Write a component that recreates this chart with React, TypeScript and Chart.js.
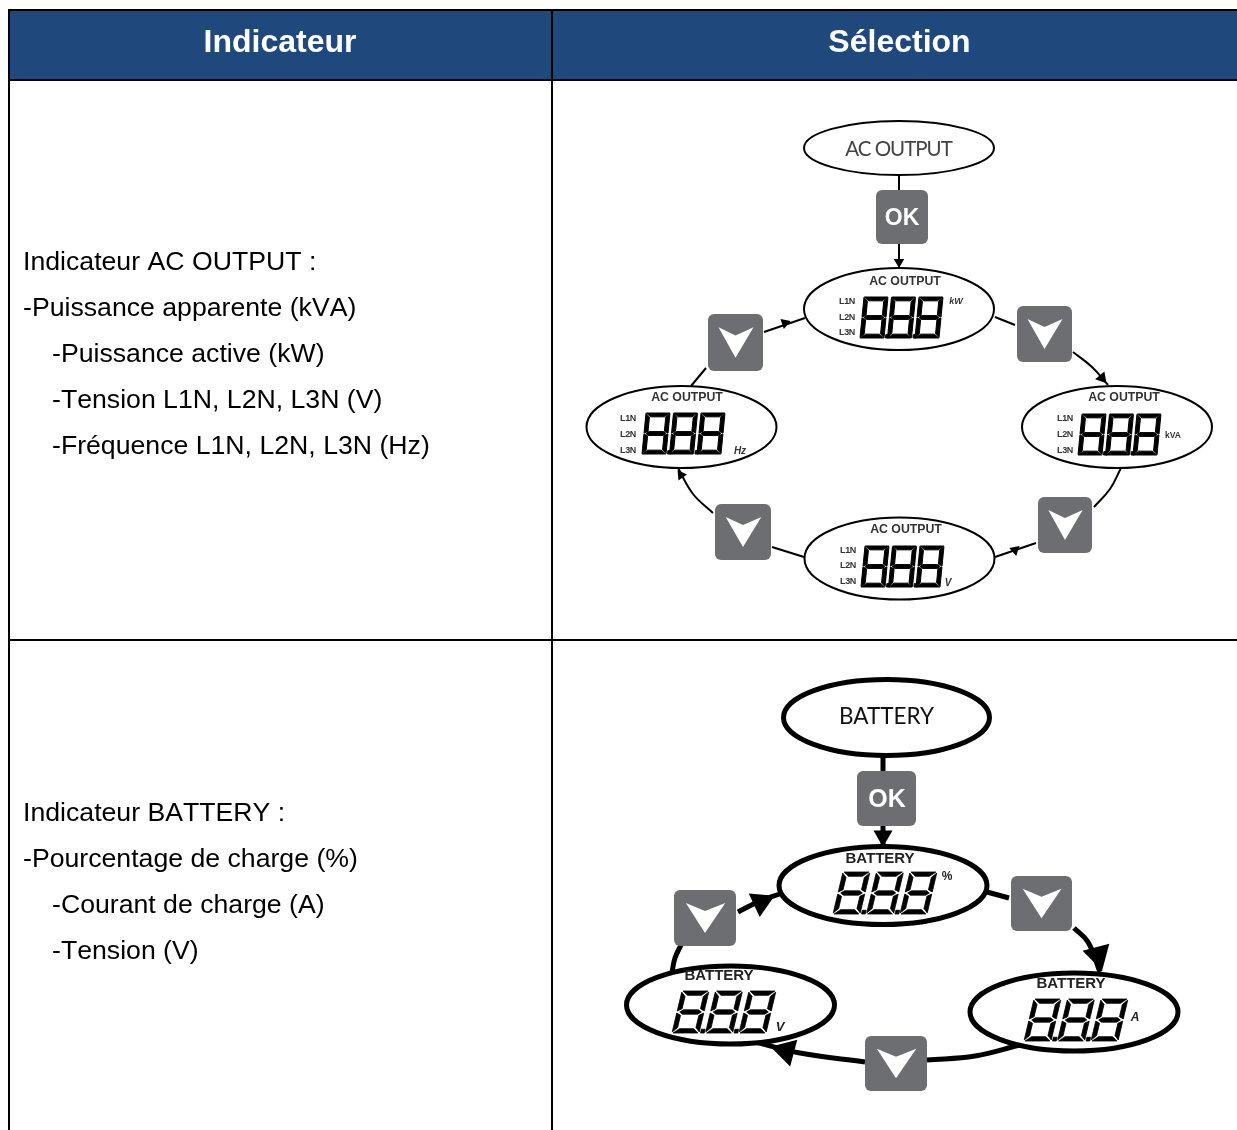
import React, { useEffect, useRef } from "react";
import { Chart, registerables } from "chart.js";

Chart.register(...registerables);

const W = 1237;
const H = 1130;

const headers = [
  { text: "Indicateur", x: 280, y: 43.5 },
  { text: "Sélection", x: 899.5, y: 43.5 },
];
const gridH = [
  { y: 10, x0: 8, x1: 1237, w: 2 },
  { y: 80, x0: 8, x1: 1237, w: 2 },
  { y: 640, x0: 8, x1: 1237, w: 2 },
];
const gridV = [
  { x: 9, y0: 10, y1: 1130 },
  { x: 552, y0: 10, y1: 1130 },
];
const cellText = [
  { t: "Indicateur AC OUTPUT :", x: 23, y: 270 },
  { t: "-Puissance apparente (kVA)", x: 23, y: 316 },
  { t: "-Puissance active (kW)", x: 52, y: 362 },
  { t: "-Tension L1N, L2N, L3N (V)", x: 52, y: 408 },
  { t: "-Fréquence L1N, L2N, L3N (Hz)", x: 52, y: 454 },
  { t: "Indicateur BATTERY :", x: 23, y: 821 },
  { t: "-Pourcentage de charge (%)", x: 23, y: 867 },
  { t: "-Courant de charge (A)", x: 52, y: 913 },
  { t: "-Tension (V)", x: 52, y: 959 },
];

const acEllipses = [
  { x: 899, y: 148, rx: 95, ry: 27 },
  { x: 899, y: 309, rx: 95, ry: 41 },
  { x: 1117, y: 427, rx: 95, ry: 41 },
  { x: 899.5, y: 558.5, rx: 95, ry: 41 },
  { x: 681.5, y: 427, rx: 95, ry: 41 },
];
const batEllipses = [
  { x: 886.5, y: 717.5, rx: 103, ry: 38 },
  { x: 883, y: 885.5, rx: 104, ry: 39 },
  { x: 1074, y: 1012, rx: 104, ry: 39 },
  { x: 730.5, y: 1005, rx: 104, ry: 39 },
];

const acOkButton = { x: 876, y: 190, w: 52, h: 54 };
const batOkButton = { x: 857, y: 771, w: 59, h: 55 };
const acDownButtons = [
  { x: 708, y: 314, w: 55, h: 57 },
  { x: 1017, y: 306, w: 55, h: 56 },
  { x: 1038, y: 497, w: 54, h: 56 },
  { x: 715, y: 504, w: 56, h: 56 },
];
const batDownButtons = [
  { x: 674, y: 890, w: 62, h: 56 },
  { x: 1011, y: 876, w: 61, h: 55 },
  { x: 865, y: 1036, w: 62, h: 55 },
];

const acDisplays = [
  { x: 860, y: 297 },
  { x: 1078, y: 414 },
  { x: 861, y: 546 },
  { x: 642, y: 413 },
];
const batDisplays = [
  { x: 833, y: 872 },
  { x: 1024, y: 999 },
  { x: 672, y: 991 },
];

const acCaptions = [
  { x: 905, y: 282 },
  { x: 1124, y: 398 },
  { x: 906, y: 530 },
  { x: 687, y: 398 },
];
const batCaptions = [
  { x: 880, y: 858.5 },
  { x: 1071, y: 984 },
  { x: 719, y: 976 },
];
const phaseLabels = ["L1N", "L2N", "L3N"];
const phaseColumns = [
  { x: 847, ys: [302, 318, 333] },
  { x: 1065, ys: [419, 435, 451] },
  { x: 848, ys: [551, 566, 582] },
  { x: 628, ys: [419, 435, 451] },
];
const units = [
  { t: "kW", x: 956, y: 302, font: "italic bold 9px 'Liberation Sans'" },
  { t: "kVA", x: 1173, y: 436, font: "bold 8.5px 'Liberation Sans'" },
  { t: "V", x: 948, y: 583, font: "italic bold 10px 'Liberation Sans'" },
  { t: "Hz", x: 740, y: 451, font: "italic bold 10px 'Liberation Sans'" },
  { t: "%", x: 947, y: 877, font: "bold 12px 'Liberation Sans'" },
  { t: "A", x: 1135, y: 1018, font: "italic bold 12px 'Liberation Sans'" },
  { t: "V", x: 780, y: 1027, font: "italic bold 13px 'Liberation Sans'" },
];

const acConnectors = [
  [{ x: 899, y: 175 }, { x: 899, y: 190 }],
  [{ x: 899, y: 244 }, { x: 899, y: 268 }],
  [{ x: 764, y: 332 }, { x: 805, y: 318 }],
  [{ x: 706, y: 368 }, { x: 691, y: 386 }],
  [{ x: 995, y: 317 }, { x: 1015, y: 325 }],
  [{ x: 1073, y: 352 }, { x: 1092, y: 367 }, { x: 1108, y: 385 }],
  [{ x: 1121, y: 468 }, { x: 1110, y: 489 }, { x: 1094, y: 507 }],
  [{ x: 1036, y: 543 }, { x: 995, y: 557 }],
  [{ x: 772, y: 547 }, { x: 804, y: 557 }],
  [{ x: 713, y: 513 }, { x: 693, y: 494 }, { x: 678, y: 468 }],
];
const batConnectors = [
  [{ x: 883, y: 756 }, { x: 883, y: 771 }],
  [{ x: 883, y: 826 }, { x: 883, y: 846 }],
  [{ x: 987, y: 892 }, { x: 1009, y: 898 }],
  [{ x: 1074, y: 928 }, { x: 1088, y: 942 }, { x: 1100, y: 972 }],
  [{ x: 1020, y: 1045 }, { x: 975, y: 1056 }, { x: 927, y: 1060 }],
  [{ x: 865, y: 1062 }, { x: 800, y: 1053 }, { x: 748, y: 1040 }],
  [{ x: 672, y: 972 }, { x: 675, y: 958 }, { x: 681, y: 945 }],
  [{ x: 738, y: 912 }, { x: 760, y: 901 }, { x: 780, y: 894 }],
];

const acArrowheads = [
  { x: 899, y: 262, rot: 180, r: 6 },
  { x: 785, y: 323, rot: 71, r: 6 },
  { x: 1102, y: 378, rot: 140, r: 7 },
  { x: 1015, y: 550, rot: 289, r: 6 },
  { x: 681, y: 475, rot: 325, r: 6 },
];
const batArrowheads = [
  { x: 883, y: 836, rot: 180, r: 11 },
  { x: 1098, y: 955, rot: 165, r: 16 },
  { x: 786, y: 1051, rot: 285, r: 16 },
  { x: 761, y: 902, rot: 65, r: 15 },
];

const NAVY = "#1F497D";
const GREY = "#6D6E71";
const AC_BLUR = "blur(0.7px)";

type Ctx = CanvasRenderingContext2D;

function polygon(ctx: Ctx, map: (u: number, v: number) => [number, number], pts: number[][], bold: number) {
  ctx.beginPath();
  pts.forEach(([u, v], i) => {
    const [px, py] = map(u, v);
    if (i === 0) ctx.moveTo(px, py);
    else ctx.lineTo(px, py);
  });
  ctx.closePath();
  ctx.fill();
  ctx.lineWidth = bold;
  ctx.lineJoin = "round";
  ctx.strokeStyle = "#000";
  ctx.stroke();
}

function drawDigit(ctx: Ctx, x: number, y: number, w: number, h: number, skew: number, t: number, g: number, bold: number, dot: boolean) {
  const map = (u: number, v: number): [number, number] => [x + u + (1 - v / h) * skew, y + v];
  const m = h / 2;
  const b = t * 0.8;
  const segs = [
    [[g, 0], [w - g, 0], [w - g - t, b], [g + t, b]],
    [[g, h], [w - g, h], [w - g - t, h - b], [g + t, h - b]],
    [[g + t * 0.3, m], [g + t * 0.9, m - b / 2], [w - g - t * 0.9, m - b / 2], [w - g - t * 0.3, m], [w - g - t * 0.9, m + b / 2], [g + t * 0.9, m + b / 2]],
    [[0, g], [t * 0.8, g + b], [t * 0.8, m - g - b / 2], [0, m - g]],
    [[0, m + g], [t * 0.8, m + g + b / 2], [t * 0.8, h - g - b], [0, h - g]],
    [[w, g], [w - t * 0.8, g + b], [w - t * 0.8, m - g - b / 2], [w, m - g]],
    [[w, m + g], [w - t * 0.8, m + g + b / 2], [w - t * 0.8, h - g - b], [w, h - g]],
  ];
  segs.forEach((s) => polygon(ctx, map, s, bold));
  if (dot) polygon(ctx, map, [[w + 1.5, h - t * 0.7], [w + t * 0.7 + 1.5, h - t * 0.7], [w + t * 0.7 + 1.5, h], [w + 1.5, h]], 0);
}

function drawDisplay(ctx: Ctx, x: number, y: number, w: number, h: number, skew: number, t: number, pitch: number, g: number, bold: number) {
  ctx.fillStyle = "#000";
  for (let i = 0; i < 3; i++) drawDigit(ctx, x + i * pitch, y, w, h, skew, t, g, bold, i < 2);
}

function drawButton(ctx: Ctx, x: number, y: number, w: number, h: number) {
  ctx.fillStyle = GREY;
  ctx.beginPath();
  ctx.roundRect(x, y, w, h, 6);
  ctx.fill();
}

function drawChevron(ctx: Ctx, x: number, y: number, w: number, h: number) {
  const cx = x + w / 2;
  const cy = y + h / 2;
  const sx = w / 55;
  const sy = h / 56;
  ctx.fillStyle = "#fff";
  ctx.beginPath();
  ctx.moveTo(cx - 17 * sx, cy - 15 * sy);
  ctx.lineTo(cx, cy - 7 * sy);
  ctx.lineTo(cx + 18 * sx, cy - 15 * sy);
  ctx.lineTo(cx, cy + 15 * sy);
  ctx.closePath();
  ctx.fill();
}

function drawEllipse(ctx: Ctx, x: number, y: number, rx: number, ry: number, lw: number) {
  ctx.beginPath();
  ctx.ellipse(x, y, rx, ry, 0, 0, Math.PI * 2);
  ctx.fillStyle = "#fff";
  ctx.fill();
  ctx.lineWidth = lw;
  ctx.strokeStyle = "#000";
  ctx.stroke();
}

function label(ctx: Ctx, t: string, x: number, y: number, font: string, color: string, align: CanvasTextAlign = "center", base: CanvasTextBaseline = "middle") {
  ctx.font = font;
  ctx.fillStyle = color;
  ctx.textAlign = align;
  ctx.textBaseline = base;
  ctx.fillText(t, x, y);
}

const tablePlugin = {
  id: "tablePlugin",
  beforeDatasetsDraw(chart: any) {
    const { ctx, scales } = chart;
    const px = (v: number) => scales.x.getPixelForValue(v);
    const py = (v: number) => scales.y.getPixelForValue(v);
    ctx.save();
    ctx.fillStyle = "#fff";
    ctx.fillRect(0, 0, W, H);
    ctx.fillStyle = NAVY;
    ctx.fillRect(px(9), py(10), px(W) - px(9), py(80) - py(10));
    ctx.strokeStyle = "#000";
    gridH.forEach((l) => {
      ctx.lineWidth = l.w;
      ctx.beginPath();
      ctx.moveTo(px(l.x0), py(l.y));
      ctx.lineTo(px(l.x1), py(l.y));
      ctx.stroke();
    });
    ctx.lineWidth = 2;
    gridV.forEach((l) => {
      ctx.beginPath();
      ctx.moveTo(px(l.x), py(l.y0));
      ctx.lineTo(px(l.x), py(l.y1));
      ctx.stroke();
    });
    headers.forEach((h) => label(ctx, h.text, px(h.x), py(h.y), "bold 32px 'Liberation Sans'", "#fff"));
    ctx.fontKerning = "none";
    cellText.forEach((c) => label(ctx, c.t, px(c.x), py(c.y), "26.67px 'Liberation Sans'", "#000", "left", "alphabetic"));
    ctx.restore();
  },
  beforeDatasetDraw(chart: any, args: any) {
    if (chart.data.datasets[args.index].blurred) chart.ctx.filter = AC_BLUR;
  },
  afterDatasetDraw(chart: any) {
    chart.ctx.filter = "none";
  },
  afterDatasetsDraw(chart: any) {
    const { ctx, scales } = chart;
    const px = (v: number) => scales.x.getPixelForValue(v);
    const py = (v: number) => scales.y.getPixelForValue(v);
    ctx.save();

    ctx.filter = AC_BLUR;
    acEllipses.forEach((e) => drawEllipse(ctx, px(e.x), py(e.y), e.rx, e.ry, 2));
    ctx.letterSpacing = "-1px";
    label(ctx, "AC OUTPUT", px(898.5), py(149), "20.5px 'Lato'", "#444");
    ctx.letterSpacing = "0px";
    acDisplays.forEach((d) => drawDisplay(ctx, px(d.x), py(d.y), 24, 41, 4, 4.8, 27.5, 0.4, 1));
    acCaptions.forEach((c) => label(ctx, "AC OUTPUT", px(c.x), py(c.y), "bold 12.3px 'Liberation Sans'", "#333"));
    ctx.letterSpacing = "-0.4px";
    phaseColumns.forEach((col) =>
      col.ys.forEach((y, i) => label(ctx, phaseLabels[i], px(col.x), py(y), "bold 9px 'Liberation Sans'", "#333"))
    );
    ctx.letterSpacing = "0px";
    units.slice(0, 4).forEach((u) => label(ctx, u.t, px(u.x), py(u.y), u.font, "#333"));
    drawButton(ctx, px(acOkButton.x), py(acOkButton.y), acOkButton.w, acOkButton.h);
    label(ctx, "OK", px(902), py(219), "bold 23px 'Liberation Sans'", "#fff");
    acDownButtons.forEach((b) => {
      drawButton(ctx, px(b.x), py(b.y), b.w, b.h);
      drawChevron(ctx, px(b.x), py(b.y), b.w, b.h);
    });
    ctx.filter = "none";

    batEllipses.forEach((e) => drawEllipse(ctx, px(e.x), py(e.y), e.rx, e.ry, 5));
    label(ctx, "BATTERY", px(886.5), py(717), "22.5px 'Lato'", "#111");
    batDisplays.forEach((d) => drawDisplay(ctx, px(d.x), py(d.y), 27, 42, 10, 5.4, 33.5, 1.1, 0.8));
    batCaptions.forEach((c) => label(ctx, "BATTERY", px(c.x), py(c.y), "bold 15px 'Liberation Sans'", "#222"));
    units.slice(4).forEach((u) => label(ctx, u.t, px(u.x), py(u.y), u.font, "#222"));
    drawButton(ctx, px(batOkButton.x), py(batOkButton.y), batOkButton.w, batOkButton.h);
    label(ctx, "OK", px(887), py(800), "bold 25px 'Liberation Sans'", "#fff");
    batDownButtons.forEach((b) => {
      drawButton(ctx, px(b.x), py(b.y), b.w, b.h);
      drawChevron(ctx, px(b.x), py(b.y), b.w, b.h);
    });
    ctx.restore();
  },
};

function lineSet(points: { x: number; y: number }[], width: number, blurred: boolean) {
  return {
    type: "scatter" as const,
    data: points,
    showLine: true,
    tension: points.length > 2 ? 0.4 : 0,
    borderColor: "#000",
    borderWidth: width,
    pointRadius: 0,
    blurred,
  };
}

function headSet(heads: { x: number; y: number; rot: number; r: number }[], blurred: boolean) {
  return {
    type: "scatter" as const,
    data: heads.map((h) => ({ x: h.x, y: h.y })),
    showLine: false,
    pointStyle: "triangle",
    pointRotation: heads.map((h) => h.rot),
    pointRadius: heads.map((h) => h.r),
    pointBackgroundColor: "#000",
    pointBorderWidth: 0,
    blurred,
  };
}

export default function App() {
  const ref = useRef<HTMLCanvasElement>(null);
  useEffect(() => {
    if (!ref.current) return;
    const chart = new Chart(ref.current, {
      type: "scatter",
      data: {
        datasets: [
          ...acConnectors.map((c) => lineSet(c, 2, true)),
          ...batConnectors.map((c) => lineSet(c, 5, false)),
          headSet(acArrowheads, true),
          headSet(batArrowheads, false),
        ] as any,
      },
      options: {
        animation: false,
        responsive: false,
        devicePixelRatio: 1,
        layout: { padding: 0, autoPadding: false },
        clip: false as any,
        events: [],
        plugins: { legend: { display: false }, tooltip: { enabled: false }, title: { display: false } },
        scales: {
          x: { type: "linear", min: 0, max: W, display: false },
          y: { type: "linear", min: 0, max: H, reverse: true, display: false },
        },
      },
      plugins: [tablePlugin],
    });
    return () => chart.destroy();
  }, []);
  return (
    <canvas
      ref={ref}
      width={W}
      height={H}
      style={{ position: "fixed", left: 0, top: 0, width: W, height: H, display: "block" }}
    />
  );
}
